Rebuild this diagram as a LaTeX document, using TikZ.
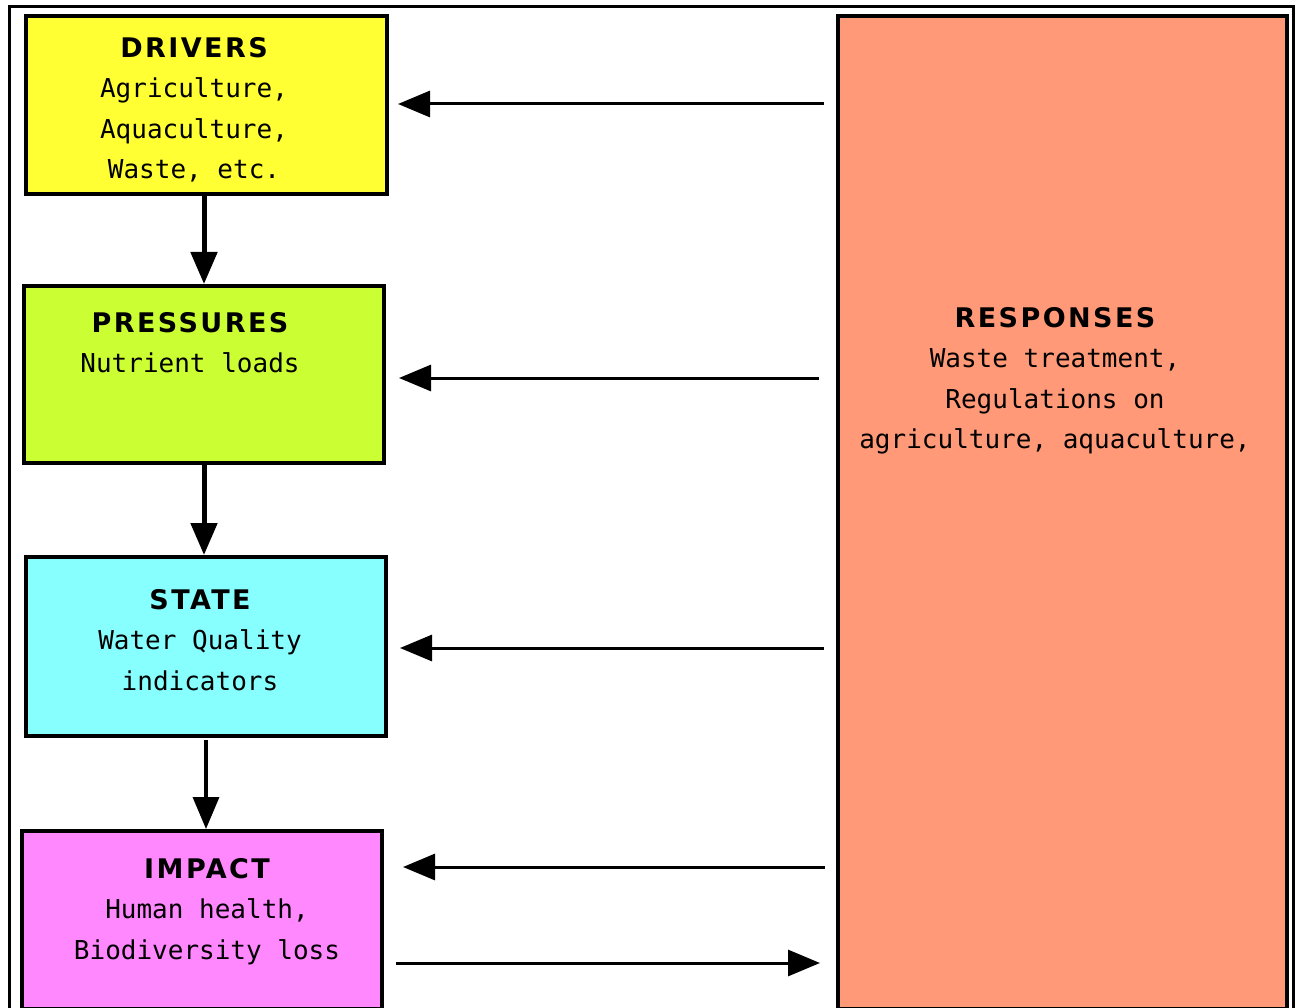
\documentclass[tikz,border=0pt]{standalone}
\usepackage{fontspec}
\setmainfont{DejaVu Sans}
\newfontfamily\hdfont[LetterSpace=9]{DejaVu Sans}
\newfontfamily\bodyfont{DejaVu Sans Mono}
\usetikzlibrary{arrows.meta}
\definecolor{drvcol}{HTML}{FFFF33}
\definecolor{prscol}{HTML}{CCFF33}
\definecolor{stcol}{HTML}{88FFFF}
\definecolor{impcol}{HTML}{FF88FF}
\definecolor{rspcol}{HTML}{FF9977}
\newcommand{\hd}[1]{{\hdfont\fontsize{27}{40.5}\selectfont\bfseries #1}}
\begin{document}
\begin{tikzpicture}[x=1pt,y=-1pt,
  box/.style={draw=black, line width=4pt, rectangle, inner sep=0pt},
  lbl/.style={align=center, anchor=north, inner sep=0pt, font=\bodyfont\fontsize{26}{40.5}\selectfont},
  tipstyle/.style={-{Triangle[width=26pt,length=32pt]}},
  varr/.style={tipstyle, line width=5pt},
  varrthin/.style={tipstyle, line width=3.5pt},
  harr/.style={tipstyle, line width=3pt},
]
\useasboundingbox (0,0) rectangle (1298,1008);
\clip (0,0) rectangle (1298,1008);
\fill[white] (0,0) rectangle (1298,1008);
\draw[line width=2.5pt] (9.5,6.5) rectangle (1293.5,1030);

% boxes
\node[box, fill=drvcol, minimum width=361.5pt, minimum height=178.5pt] (drv) at (206.25,105.25) {};
\node[box, fill=prscol, minimum width=360pt, minimum height=177pt] (prs) at (204,374.5) {};
\node[box, fill=stcol, minimum width=360pt, minimum height=179pt] (st) at (206,646.5) {};
\node[box, fill=impcol, minimum width=360pt, minimum height=178pt] (imp) at (202,920) {};
\node[box, fill=rspcol, minimum width=449pt, minimum height=993pt] (rsp) at (1062.5,512.5) {};

% texts
\node[lbl] (drvt) at (194,37) {\hd{DRIVERS}\\Agriculture,\\Aquaculture,\\Waste, etc.};
\node[lbl] (prst) at (190,312) {\hd{PRESSURES}\\Nutrient loads};
\node[lbl] (stt) at (200,589) {\hd{STATE}\\Water Quality\\indicators};
\node[lbl] (impt) at (207,858) {\hd{IMPACT}\\Human health,\\Biodiversity loss};
\node[lbl] (rspt) at (1055,307) {\hd{RESPONSES}\\Waste treatment,\\Regulations on\\agriculture, aquaculture,};

% vertical arrows
\draw[varr] (drv.south -| prs.north) -- (prs.north);
\draw[varr] (prs.south) -- (prs.south |- st.north);
\draw[varrthin, shorten <=2pt] (st.south) -- (st.south |- imp.north);

% horizontal arrows
\coordinate (h1) at (0,104);
\coordinate (h2) at (0,378);
\coordinate (h3) at (0,648);
\coordinate (h4) at (0,867);
\coordinate (h5) at (0,963);
\draw[harr, shorten <=12pt, shorten >=9pt] (rsp.west |- h1) -- (drv.east |- h1);
\draw[harr, shorten <=17pt, shorten >=13pt] (rsp.west |- h2) -- (prs.east |- h2);
\draw[harr, shorten <=12pt, shorten >=12pt] (rsp.west |- h3) -- (st.east |- h3);
\draw[harr, shorten <=11pt, shorten >=19pt] (rsp.west |- h4) -- (imp.east |- h4);
\draw[harr, shorten <=12pt, shorten >=16pt] (imp.east |- h5) -- (rsp.west |- h5);
\end{tikzpicture}
\end{document}
